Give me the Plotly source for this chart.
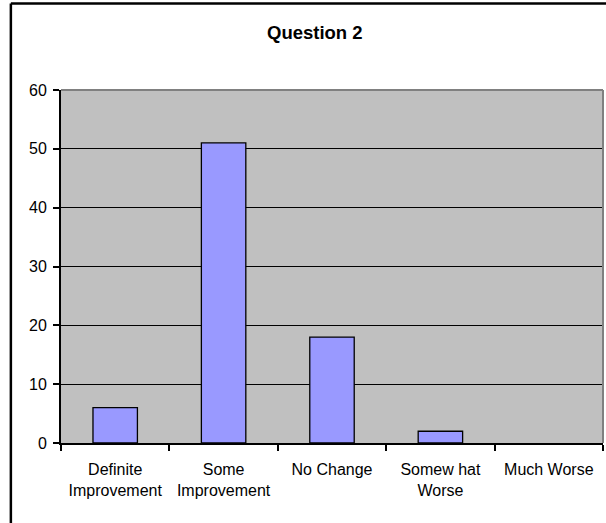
import plotly.graph_objects as go

# Survey responses for Question 2
categories = ["Definite<br>Improvement", "Some<br>Improvement", "No Change",
              "Somew hat<br>Worse", "Much Worse"]
counts = [6, 51, 18, 2, 0]
y_ticks = [0, 10, 20, 30, 40, 50, 60]

FONT = "Liberation Sans, Arial, sans-serif"

# Empty bars get no outline so nothing is drawn on the baseline
outline_widths = [1.3 if v > 0 else 0 for v in counts]

fig = go.Figure(
    go.Bar(
        x=categories,
        y=counts,
        marker=dict(color="#9999FF", line=dict(color="#000000", width=outline_widths)),
        width=0.41,
    )
)

fig.update_layout(
    width=606,
    height=523,
    margin=dict(l=61, r=3, t=90, b=80),
    paper_bgcolor="#FFFFFF",
    plot_bgcolor="#C0C0C0",
    showlegend=False,
    font=dict(family=FONT, size=16, color="#000000"),
    title=dict(
        text="<b>Question 2</b>",
        x=0.5195,
        xanchor="center",
        y=0.938,
        yanchor="middle",
        font=dict(family=FONT, size=18.5, color="#000000"),
    ),
)

fig.update_xaxes(
    showgrid=False,
    showline=True,
    linecolor="#000000",
    linewidth=2,
    ticks="outside",
    tickson="boundaries",
    ticklen=6,
    tickwidth=1.5,
    tickcolor="#000000",
    ticklabelstandoff=11,
    tickfont=dict(family=FONT, size=16),
    fixedrange=True,
)

fig.update_yaxes(
    range=[0, 60],
    tickvals=y_ticks,
    showgrid=True,
    gridcolor="#000000",
    gridwidth=1,
    zeroline=False,
    showline=True,
    linecolor="#000000",
    linewidth=2,
    ticks="outside",
    ticklen=6,
    tickwidth=1.5,
    tickcolor="#000000",
    ticklabelstandoff=3,
    tickfont=dict(family=FONT, size=16),
    fixedrange=True,
)

# Plot-area frame on the top and right edges
fig.add_shape(type="line", xref="paper", yref="paper", x0=0, x1=1, y0=1, y1=1,
              line=dict(color="#808080", width=2), layer="above")
fig.add_shape(type="line", xref="paper", yref="paper", x0=1, x1=1, y0=0, y1=1,
              line=dict(color="#808080", width=2), layer="above")

# Chart-area border (left and top edges)
fig.add_shape(type="line", xref="paper", yref="paper",
              x0=-0.0925, x1=1.2, y0=1.2450, y1=1.2450,
              line=dict(color="#000000", width=2.5), layer="above")
fig.add_shape(type="line", xref="paper", yref="paper",
              x0=-0.0925, x1=-0.0925, y0=-0.4, y1=1.2450,
              line=dict(color="#000000", width=2.5), layer="above")

fig.write_html("out.html")
